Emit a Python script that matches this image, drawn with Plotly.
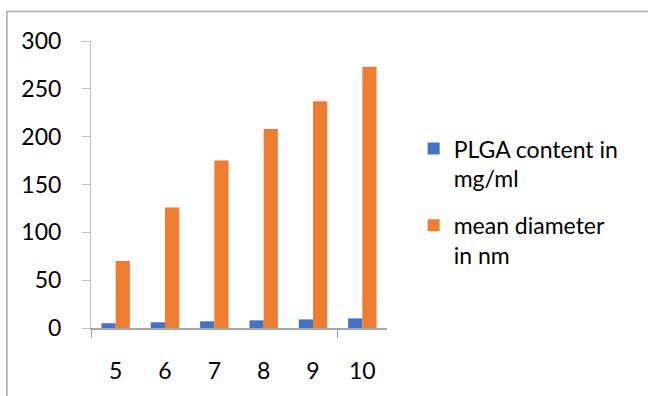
import plotly.graph_objects as go

categories = [5, 6, 7, 8, 9, 10]
plga_content = [5, 6, 7, 8, 9, 10]
mean_diameter = [70, 126, 175, 208, 237, 273]
series_names = ["PLGA content in<br>mg/ml", "mean diameter<br>in nm"]
y_ticks = [0, 50, 100, 150, 200, 250, 300]

FONT = "Lato"
fig = go.Figure()
fig.add_trace(go.Bar(x=categories, y=plga_content, name=series_names[0],
                     marker=dict(color="#4472C4", line=dict(width=0)), legendgroup="a"))
fig.add_trace(go.Bar(x=categories, y=mean_diameter, name=series_names[1],
                     marker=dict(color="#ED7D31", line=dict(width=0)), legendgroup="b"))

fig.update_layout(
    width=648, height=396,
    margin=dict(l=91, r=261, t=41, b=63),
    paper_bgcolor="white", plot_bgcolor="white",
    barmode="group", bargap=0.424, bargroupgap=0,
    font=dict(family=FONT, size=23, color="black"),
    showlegend=True,
    legend=dict(x=1.09, xanchor="left", y=0.70, yanchor="top",
                valign="top", traceorder="grouped", tracegroupgap=14,
                font=dict(family=FONT, size=23, color="black"),
                bgcolor="rgba(0,0,0,0)"),
    xaxis=dict(range=[4.5, 10.5], tickvals=categories, ticktext=[str(c) for c in categories],
               ticks="", showgrid=False, zeroline=False,
               showline=True, linecolor="#a6a6a6", linewidth=1.5,
               ticklabelstandoff=22,
               minor=dict(tickvals=[4.5, 9.5], ticks="outside", ticklen=8,
                          tickcolor="#a6a6a6", tickwidth=1, showgrid=False)),
    yaxis=dict(range=[0, 300], tickvals=y_ticks, ticks="outside", ticklen=8,
               tickcolor="#bfbfbf", showgrid=False, zeroline=False,
               showline=True, linecolor="#bfbfbf", linewidth=1,
               ticklabelstandoff=16),
    shapes=[dict(type="rect", xref="paper", yref="paper",
                 x0=-0.284, x1=2.0, y0=-0.6, y1=1.1027,
                 line=dict(color="#a6a6a6", width=1.5), layer="below")],
)

fig.write_html("out.html")
